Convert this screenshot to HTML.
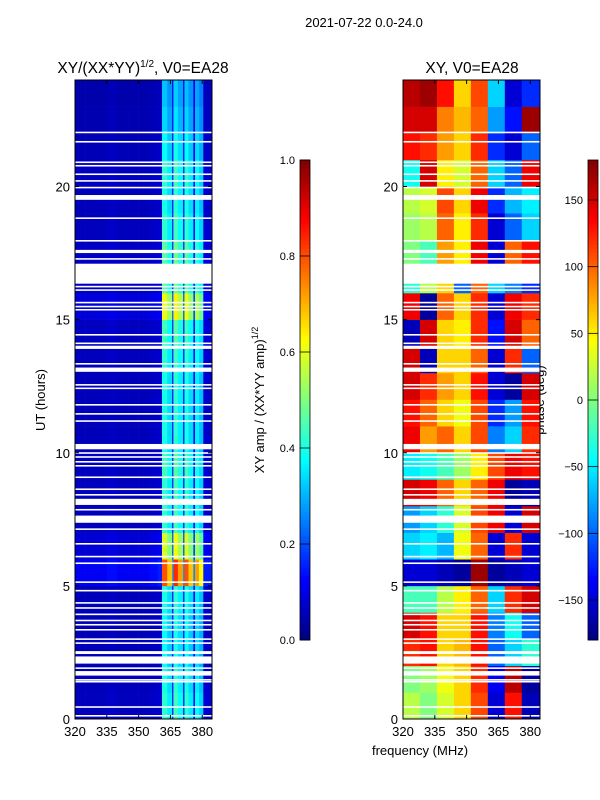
<!DOCTYPE html>
<html><head><meta charset="utf-8"><style>
body{margin:0;background:#fff;}
svg{display:block;font-family:"Liberation Sans",sans-serif;}
</style></head><body>
<svg id="fig" width="600" height="800" viewBox="0 0 600 800" xmlns="http://www.w3.org/2000/svg">
<text x="364" y="27" font-size="13" text-anchor="middle">2021-07-22 0.0-24.0</text>
<text x="143" y="73" font-size="15.5" text-anchor="middle">XY/(XX*YY)<tspan font-size="10" dy="-6">1/2</tspan><tspan dy="6">, V0=EA28</tspan></text>
<text x="472" y="73" font-size="15.5" text-anchor="middle">XY, V0=EA28</text>
<text x="45" y="400" font-size="13" text-anchor="middle" transform="rotate(-90 45 400)">UT (hours)</text>
<text x="420" y="755" font-size="13" text-anchor="middle">frequency (MHz)</text>
<text x="264" y="400" font-size="13" text-anchor="middle" transform="rotate(-90 264 400)">XY amp / (XX*YY amp)<tspan font-size="9" dy="-6">1/2</tspan></text>
<text x="544" y="400" font-size="13" text-anchor="middle" transform="rotate(-90 544 400)">phase (deg)</text>
<g id="left"></g><g id="right"></g><g id="cb"></g>
</svg>
<script>
// frequency / time axes
const freqMin = 320, freqMax = 384.6, timeMin = 0, timeMax = 24;
const xTicks = [320, 335, 350, 365, 380];
const yTicks = [0, 5, 10, 15, 20];
// left panel: amplitude profile per frequency column (column start, MHz)
const ampFreqs = [320,325,330,335,340,345,350,355,359,361,363.5,365.8,366.4,368.5,371,371.6,373.5,375.8,376.6,378.5,380.5];
const ampProfile = [0.06,0.06,0.06,0.07,0.06,0.06,0.06,0.07,0.08,0.42,0.36,0.15,0.44,0.38,0.14,0.42,0.36,0.14,0.38,0.33,0.08];
// hourly amplitude scale
const ampHourScale = [1.0,0.95,0.9,0.9,0.95,1.9,1.4,1.0,1.0,1.05,0.95,0.95,0.95,1.0,1.05,1.45,1.1,1.1,1.0,0.95,1.0,0.9,0.8,0.75];
// right panel: phase (deg) per hour x 8 MHz columns
const phaseFreqs = [320,328,336,344,352,360,368,376];
const phaseH00 = [20,0,30,60,110,-150,130,-160];
const phaseH01 = [0,10,40,60,120,-140,160,-170];
const phaseH02 = [120,130,60,70,130,-100,-60,-30];
const phaseH03 = [150,130,60,60,130,-90,-40,-100];
const phaseH04 = [-20,-20,20,50,100,-60,120,150];
const phaseH05 = [-150,-150,-160,-170,170,-170,-160,-150];
const phaseH06 = [-60,-50,-70,40,100,-150,120,-150];
const phaseH07 = [-80,-60,-30,30,110,140,-150,150];
const phaseH08 = [150,140,100,60,100,140,-170,-160];
const phaseH09 = [-50,-40,-20,10,50,110,140,130];
const phaseH10 = [140,80,100,60,110,-90,-60,120];
const phaseH11 = [130,100,60,40,110,-120,-80,130];
const phaseH12 = [150,120,80,60,130,-150,-170,150];
const phaseH13 = [150,-160,60,60,100,-150,120,-100];
const phaseH14 = [-160,150,60,50,120,-130,150,100];
const phaseH15 = [140,-170,100,60,120,-150,140,120];
const phaseH16 = [-30,20,60,-100,100,-60,-90,-120];
const phaseH17 = [0,-20,80,50,140,-150,100,130];
const phaseH18 = [10,20,100,50,120,-150,-100,-60];
const phaseH19 = [20,30,110,60,140,-120,-70,-50];
const phaseH20 = [-40,150,50,30,100,-60,-100,140];
const phaseH21 = [130,120,80,60,120,-120,-150,-100];
const phaseH22 = [150,150,90,70,100,-80,-130,170];
const phaseH23 = [160,170,130,60,110,-60,-150,-120];
const phaseRows = [phaseH00,phaseH01,phaseH02,phaseH03,phaseH04,phaseH05,phaseH06,phaseH07,phaseH08,phaseH09,phaseH10,phaseH11,phaseH12,phaseH13,phaseH14,phaseH15,phaseH16,phaseH17,phaseH18,phaseH19,phaseH20,phaseH21,phaseH22,phaseH23];
// missing-data gaps [start hour, end hour]
const gapStart = [22.0,21.65,20.88,20.75,20.43,20.18,19.93,19.5,18.78,17.93,17.5,17.25,16.35,16.21,16.08,15.61,15.46,15.34,14.4,14.08,13.9,13.31,13.04,12.52,12.39,11.77,11.43,11.16,10.13,9.96,9.81,9.63,9.48,9.05,8.6,8.39,8.04,7.83,7.37,7.1,6.55,6.07,5.82,5.11,4.79,4.33,4.14,3.9,3.67,3.51,3.32,2.97,2.82,2.44,2.08,1.88,1.63,1.44,1.37,0.42,0.09];
const gapEnd   = [22.06,21.71,20.94,20.81,20.49,20.24,19.99,19.68,18.84,17.99,17.62,17.31,17.1,16.27,16.14,15.67,15.52,15.4,14.46,14.14,14.02,13.37,13.2,12.58,12.45,11.83,11.49,11.22,10.33,10.02,9.87,9.69,9.54,9.11,8.66,8.45,8.27,7.89,7.64,7.16,6.61,6.13,5.88,5.17,4.85,4.39,4.2,3.96,3.73,3.57,3.38,3.03,2.88,2.55,2.35,1.94,1.8,1.5,1.43,0.48,0.15];

const NS="http://www.w3.org/2000/svg";
const panelY0 = 80, panelY1 = 719;
function jet(v){v=Math.max(0,Math.min(1,v));
 const c=x=>Math.round(255*Math.max(0,Math.min(1,x)));
 return `rgb(${c(1.5-Math.abs(4*v-3))},${c(1.5-Math.abs(4*v-2))},${c(1.5-Math.abs(4*v-1))})`;}
function mk(tag,attrs,parent){const e=document.createElementNS(NS,tag);for(const k in attrs)e.setAttribute(k,attrs[k]);parent.appendChild(e);return e;}
function yScale(h){return panelY1-(h-timeMin)/(timeMax-timeMin)*(panelY1-panelY0);}
function makeX(x0,x1){return f=>x0+(f-freqMin)/(freqMax-freqMin)*(x1-x0);}

function panel(gid,x0,x1,kind){
 const g=document.getElementById(gid);const xs=makeX(x0,x1);
 if(kind==='amp'){
  for(let h=0;h<24;h++){for(let i=0;i<ampFreqs.length;i++){
   const fa=ampFreqs[i],fb=i+1<ampFreqs.length?ampFreqs[i+1]:freqMax;
   const r=mk('rect',{x:xs(fa),y:yScale(h+1),width:xs(fb)-xs(fa)+0.3,height:yScale(h)-yScale(h+1)+0.3,fill:jet(ampProfile[i]*ampHourScale[h])},g);
   
   
  }}
 } else {
  for(let h=0;h<24;h++){const row=phaseRows[h];for(let i=0;i<phaseFreqs.length;i++){
   const fa=phaseFreqs[i],fb=i+1<phaseFreqs.length?phaseFreqs[i+1]:freqMax;
   const r=mk('rect',{x:xs(fa),y:yScale(h+1),width:xs(fb)-xs(fa)+0.3,height:yScale(h)-yScale(h+1)+0.3,fill:jet((row[i]+180)/360)},g);
   
   
  }}
 }
 for(let i=0;i<gapStart.length;i++){
  const r=mk('rect',{x:x0,y:yScale(gapEnd[i]),width:x1-x0,height:Math.max(1.2,yScale(gapStart[i])-yScale(gapEnd[i])),fill:'#fff'},g);
  
  
 }
 const fr=mk('rect',{x:x0,y:panelY0,width:x1-x0,height:panelY1-panelY0,fill:'none',stroke:'#000','stroke-width':1},g);
 
 
 xTicks.forEach(t=>{const x=xs(t);
  mk('line',{x1:x,x2:x,y1:panelY1,y2:panelY1-4,stroke:'#000'},g);
  mk('line',{x1:x,x2:x,y1:panelY0,y2:panelY0+4,stroke:'#000'},g);
  const tx=mk('text',{x:x,y:panelY1+17,'font-size':13,'text-anchor':'middle'},g);tx.textContent=t;
  
  });
 yTicks.forEach(t=>{const y=yScale(t);
  mk('line',{x1:x0,x2:x0+4,y1:y,y2:y,stroke:'#000'},g);
  mk('line',{x1:x1,x2:x1-4,y1:y,y2:y,stroke:'#000'},g);
  const tx=mk('text',{x:x0-5,y:y+5,'font-size':13,'text-anchor':'end'},g);tx.textContent=t;
  
  });
}
panel('left',75,212,'amp');
panel('right',403,540,'phase');

const ampCbTicks=[0.0,0.2,0.4,0.6,0.8,1.0];
const phaseCbTicks=[-150,-100,-50,0,50,100,150];
function colorbar(x,vmin,vmax,ticks,fmt,name){
 const g=document.getElementById('cb');const y0=160,y1=640,n=120;
 for(let i=0;i<n;i++){const r=mk('rect',{x:x,y:y1-(i+1)*(y1-y0)/n,width:10,height:(y1-y0)/n+0.4,fill:jet((i+0.5)/n)},g);
  
  }
 const fr=mk('rect',{x:x,y:y0,width:10,height:y1-y0,fill:'none',stroke:'#000','stroke-width':0.8},g);
 
 
 ticks.forEach(t=>{const y=y1-(t-vmin)/(vmax-vmin)*(y1-y0);
  mk('line',{x1:x,x2:x+10,y1:y,y2:y,stroke:'#000','stroke-width':0.8},g);
  const tx=mk('text',{x:x-5,y:y+4,'font-size':11,'text-anchor':'end'},g);tx.textContent=fmt(t);
  
  });
}
colorbar(300,0,1,ampCbTicks,t=>t.toFixed(1),'amp-colorbar');
colorbar(588,-180,180,phaseCbTicks,t=>t<0?'\u2212'+(-t):String(t),'phase-colorbar');
</script>
</body></html>
